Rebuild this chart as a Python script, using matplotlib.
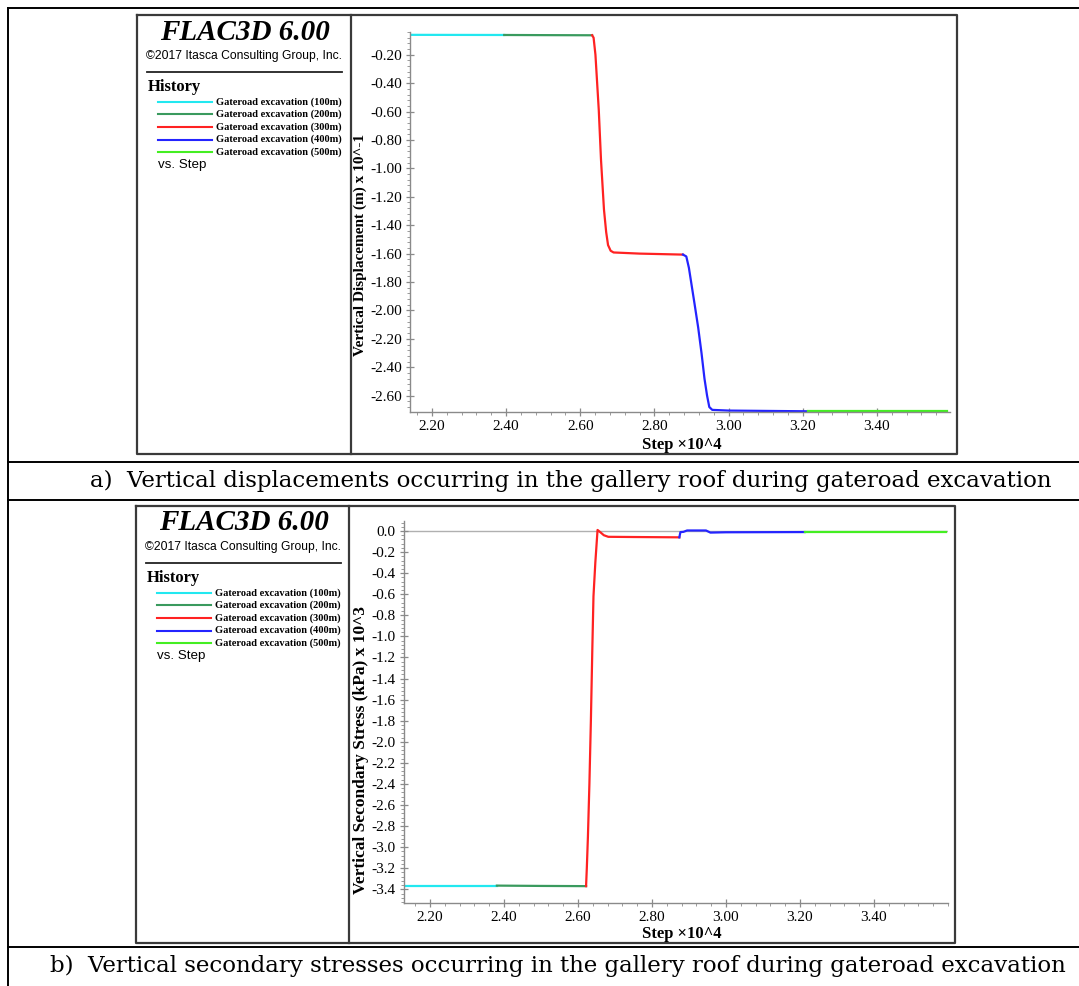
import numpy as np
import matplotlib.pyplot as plt
from matplotlib.ticker import FixedLocator, MultipleLocator, FormatStrFormatter

# series colours, in legend order
labels = ['Gateroad excavation (100m)', 'Gateroad excavation (200m)', 'Gateroad excavation (300m)',
          'Gateroad excavation (400m)', 'Gateroad excavation (500m)']
colors = ['#22e8f0', '#3a9a5e', '#ff2222', '#2424ff', '#44ee22']

# a) vertical displacement (m x 10^-1) vs step (x10^4)
a_step_100 = [2.143, 2.395]
a_disp_100 = [-0.060, -0.061]
a_step_200 = [2.395, 2.50, 2.632]
a_disp_200 = [-0.061, -0.062, -0.063]
a_step_300 = [2.632, 2.636, 2.641, 2.65, 2.656, 2.664, 2.67, 2.675, 2.682, 2.69, 2.76, 2.877]
a_disp_300 = [-0.063, -0.08, -0.20, -0.59, -0.94, -1.29, -1.45, -1.54, -1.58, -1.592, -1.600, -1.607]
a_step_400 = [2.877, 2.886, 2.893, 2.899, 2.908, 2.918, 2.927, 2.935, 2.942, 2.948, 2.956, 3.00, 3.213]
a_disp_400 = [-1.607, -1.62, -1.70, -1.80, -1.95, -2.12, -2.30, -2.48, -2.60, -2.68, -2.700, -2.705, -2.71]
a_step_500 = [3.213, 3.59]
a_disp_500 = [-2.71, -2.71]

# b) vertical secondary stress (kPa x 10^3) vs step (x10^4)
b_step_100 = [2.133, 2.381]
b_sig_100 = [-3.365, -3.365]
b_step_200 = [2.381, 2.50, 2.622]
b_sig_200 = [-3.365, -3.368, -3.370]
b_step_300 = [2.622, 2.624, 2.627, 2.631, 2.635, 2.639, 2.642, 2.647, 2.653, 2.66, 2.67, 2.682, 2.75, 2.874]
b_sig_300 = [-3.370, -3.20, -2.90, -2.40, -1.80, -1.10, -0.62, -0.30, 0.01, -0.01, -0.04, -0.055, -0.057, -0.060]
b_step_400 = [2.874, 2.877, 2.885, 2.895, 2.946, 2.958, 3.00, 3.213]
b_sig_400 = [-0.060, -0.010, -0.008, 0.005, 0.005, -0.015, -0.012, -0.010]
b_step_500 = [3.213, 3.595]
b_sig_500 = [-0.010, -0.010]

x_ticks = [2.20, 2.40, 2.60, 2.80, 3.00, 3.20, 3.40]
a_yticks = [-0.20, -0.40, -0.60, -0.80, -1.00, -1.20, -1.40, -1.60, -1.80, -2.00, -2.20, -2.40, -2.60]
b_yticks = [0.0, -0.2, -0.4, -0.6, -0.8, -1.0, -1.2, -1.4, -1.6, -1.8, -2.0, -2.2, -2.4, -2.6,
            -2.8, -3.0, -3.2, -3.4]

captions = ['a)  Vertical displacements occurring in the gallery roof during gateroad excavation',
            'b)  Vertical secondary stresses occurring in the gallery roof during gateroad excavation']

W, H = 1079, 986
SERIF = 'Liberation Serif'
SANS = 'Liberation Sans'

fig = plt.figure(figsize=(W / 100, H / 100), dpi=100)

# overlay in pixel coordinates for the table and the legend panels
ov = fig.add_axes([0, 0, 1, 1])
ov.set_xlim(0, W)
ov.set_ylim(H, 0)
ov.axis('off')


def px_axes(x0, y0, x1, y1):
    return fig.add_axes([x0 / W, 1 - y1 / H, (x1 - x0) / W, (y1 - y0) / H])


# table lines
ov.plot([8, 8], [8, H], color='black', lw=1.4)
for yy in [8, 462, 500, 947]:
    ov.plot([8, W], [yy, yy], color='black', lw=1.4)

for i, cap in enumerate(captions):
    ov.text([571, 558][i], [481, 966][i], cap, ha='center', va='center',
            family='DejaVu Serif', fontsize=16.5)

# frames and left info panels
frames = [(137, 15, 957, 454, 351), (136, 506, 955, 943, 349)]
for (x0, y0, x1, y1, xd) in frames:
    ov.plot([x0, x1, x1, x0, x0], [y0, y0, y1, y1, y0], color='#3a3a3a', lw=1.6)
    ov.plot([xd, xd], [y0, y1], color='#3a3a3a', lw=1.6)
    ox = x0 - 137
    oy = y0 - 15
    ov.text(245 + ox, 32 + oy, 'FLAC3D 6.00', ha='center', va='center', family=SERIF,
            fontsize=21, fontweight='bold', fontstyle='italic')
    ov.text(244 + ox, 56 + oy, '\u00a92017 Itasca Consulting Group, Inc.', ha='center', va='center',
            family=SANS, fontsize=8.7)
    ov.plot([147 + ox, 342 + ox], [72 + oy, 72 + oy], color='#222222', lw=1.3)
    ov.text(148 + ox, 87 + oy, 'History', ha='left', va='center', family=SERIF,
            fontsize=12, fontweight='bold')
    for k in range(5):
        yy = 101.7 + 12.65 * k + oy
        ov.plot([158 + ox, 212 + ox], [yy, yy], color=colors[k], lw=1.5)
        ov.text(216 + ox, yy, labels[k], ha='left', va='center', family=SERIF,
                fontsize=7.5, fontweight='bold')
    ov.text(158 + ox, 165 + oy, 'vs. Step', ha='left', va='center', family=SANS, fontsize=9.6)


def style_axes(ax, yfmt, yminor):
    ax.set_facecolor('none')
    for s in ['top', 'right']:
        ax.spines[s].set_visible(False)
    for s in ['left', 'bottom']:
        ax.spines[s].set_color('#8a8a8a')
        ax.spines[s].set_linewidth(1.0)
    ax.xaxis.set_major_locator(FixedLocator(x_ticks))
    ax.xaxis.set_minor_locator(MultipleLocator(0.04))
    ax.xaxis.set_major_formatter(FormatStrFormatter('%.2f'))
    ax.yaxis.set_major_formatter(FormatStrFormatter(yfmt))
    ax.yaxis.set_minor_locator(MultipleLocator(yminor))
    ax.tick_params(which='major', direction='inout', length=6, width=0.9, color='#8a8a8a',
                   labelsize=11, pad=3)
    ax.tick_params(which='minor', direction='out', length=2.5, width=0.7, color='#9a9a9a')
    for lab in ax.get_xticklabels() + ax.get_yticklabels():
        lab.set_family(SERIF)


# panel a
ax1 = px_axes(410, 32, 950, 412)
ax1.plot(a_step_100, a_disp_100, color=colors[0], lw=1.6)
ax1.plot(a_step_200, a_disp_200, color=colors[1], lw=1.6)
ax1.plot(a_step_300, a_disp_300, color=colors[2], lw=1.6)
ax1.plot(a_step_400, a_disp_400, color=colors[3], lw=1.6)
ax1.plot(a_step_500, a_disp_500, color=colors[4], lw=1.6)
ax1.set_xlim(2.141, 3.597)
ax1.set_ylim(-2.715, -0.04)
ax1.yaxis.set_major_locator(FixedLocator(a_yticks))
style_axes(ax1, '%.2f', 0.04)
ax1.set_xlabel('Step \u00d710^4', family=SERIF, fontweight='bold', fontsize=12, va='center')
ax1.xaxis.set_label_coords(0.504, -0.087)
ax1.set_ylabel('Vertical Displacement (m) x 10^-1', family=SERIF, fontweight='bold',
               fontsize=11, va='center')
ax1.yaxis.set_label_coords(-0.0915, 0.44)

# panel b
ax2 = px_axes(404, 521, 948, 903)
ax2.axhline(0.0, color='#b0b0b0', lw=1.0, zorder=1)
ax2.plot(b_step_100, b_sig_100, color=colors[0], lw=1.6)
ax2.plot(b_step_200, b_sig_200, color=colors[1], lw=1.6)
ax2.plot(b_step_300, b_sig_300, color=colors[2], lw=1.6)
ax2.plot(b_step_400, b_sig_400, color=colors[3], lw=1.6)
ax2.plot(b_step_500, b_sig_500, color=colors[4], lw=1.6)
ax2.set_xlim(2.13, 3.60)
ax2.set_ylim(-3.53, 0.095)
ax2.yaxis.set_major_locator(FixedLocator(b_yticks))
style_axes(ax2, '%.1f', 0.04)
ax2.set_xlabel('Step \u00d710^4', family=SERIF, fontweight='bold', fontsize=12, va='center')
ax2.xaxis.set_label_coords(0.511, -0.081)
ax2.set_ylabel('Vertical Secondary Stress (kPa) x 10^3', family=SERIF, fontweight='bold',
               fontsize=12.5, va='center')
ax2.yaxis.set_label_coords(-0.079, 0.40)

fig.savefig('out.png', dpi=100)
